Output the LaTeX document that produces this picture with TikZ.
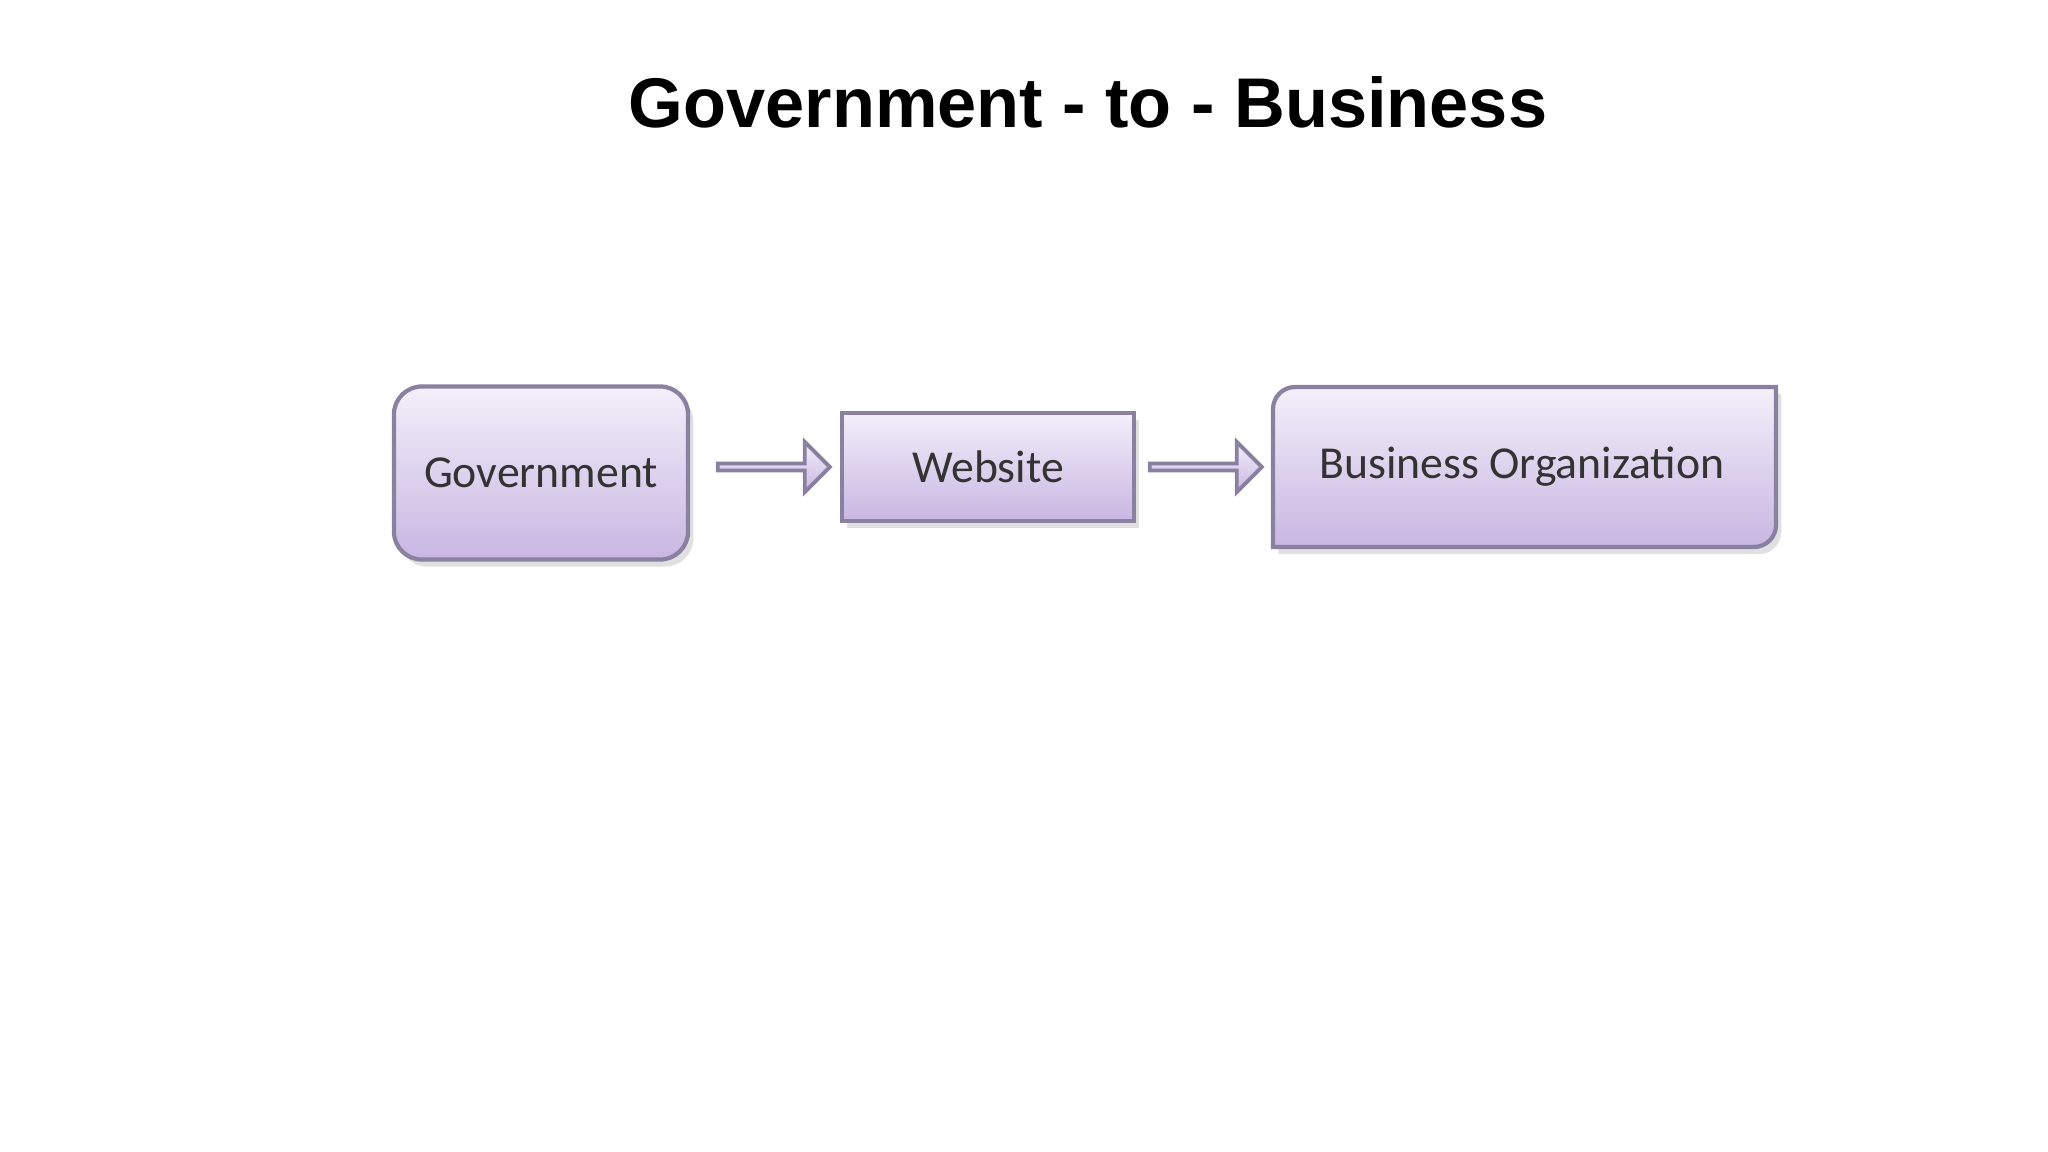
\documentclass[tikz,border=0pt]{standalone}
\usepackage{fontspec}
\setmainfont{Carlito}
\newfontfamily\titlefont{Liberation Sans}
\usetikzlibrary{shapes.arrows,shadows}
\definecolor{ftop}{HTML}{F3EFFA}
\definecolor{fbot}{HTML}{C8B6E2}
\definecolor{edge}{HTML}{8A80A0}
\tikzset{
  boxstyle/.style={draw=edge, line width=1.2pt, top color=ftop, bottom color=fbot,
    drop shadow={shadow xshift=1.5pt, shadow yshift=-2pt, fill=black!30, opacity=0.4},
    text=black!80, font=\fontsize{13}{15}\selectfont, inner sep=0pt},
  arrowstyle/.style={single arrow, draw=edge, line width=1.1pt, top color=ftop, bottom color=fbot,
    minimum height=1.12cm, minimum width=0.5cm, single arrow head extend=0.12cm,
    single arrow tip angle=90, inner sep=0pt}
}
\begin{document}
\begin{tikzpicture}[x=0.01cm,y=-0.01cm]
\useasboundingbox (0,0) rectangle (2048,1152);
\node[font=\titlefont\bfseries\fontsize{20}{24}\selectfont] (title) at (1088,102) {Government - to - Business};
\node[boxstyle, rounded corners=0.28cm, minimum width=2.94cm, minimum height=1.73cm] (gov) at (541,473) {Government};
\node[boxstyle, minimum width=2.92cm, minimum height=1.08cm] (web) at (988,467) {Website};
\path[boxstyle] (1273,547) [rounded corners=0.22cm] -- (1273,387) [sharp corners] -- (1776,387) [rounded corners=0.22cm] -- (1776,547) [sharp corners] -- cycle;
\node[text=black!80, font=\fontsize{13}{15}\selectfont] (bus) at (1522,467) {Business Organization};
\node[arrowstyle] (a1) at (772,467) {};
\node[arrowstyle] (a2) at (1204,467) {};
\end{tikzpicture}
\end{document}
